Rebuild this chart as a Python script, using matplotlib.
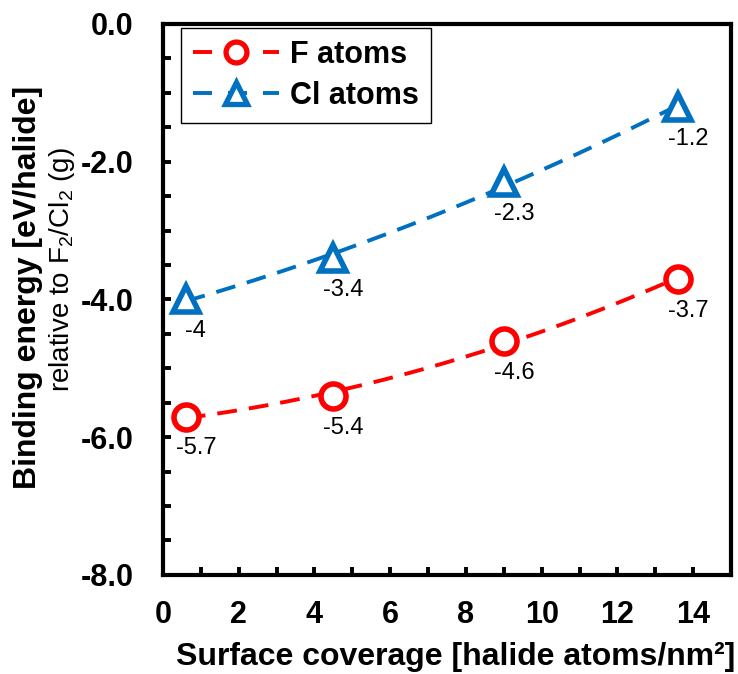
import numpy as np
import matplotlib
matplotlib.use("Agg")
import matplotlib.pyplot as plt
from matplotlib.lines import Line2D
from matplotlib.ticker import MultipleLocator, FormatStrFormatter

plt.rcParams['font.family'] = ['Liberation Sans', 'DejaVu Sans']
plt.rcParams['mathtext.fontset'] = 'custom'
plt.rcParams['mathtext.rm'] = 'Liberation Sans'

coverage = [0.6, 4.5, 9.0, 13.6]
f_energy = [-5.7, -5.4, -4.6, -3.7]
cl_energy = [-4.0, -3.4, -2.3, -1.2]
f_labels = ["-5.7", "-5.4", "-4.6", "-3.7"]
cl_labels = ["-4", "-3.4", "-2.3", "-1.2"]

RED = "#FF0000"
BLUE = "#0070C0"

fig = plt.figure(figsize=(7.38, 6.74), dpi=100)
ax = fig.add_axes([0.2209, 0.147, 0.7696, 0.8174])


def draw_series(y, labels, color, marker, ms):
    x = np.array(coverage)
    # excel style 2nd order trendline
    coef = np.polyfit(x, y, 2)
    xs = np.linspace(x[0], x[-1], 200)
    ax.plot(xs, np.polyval(coef, xs), color=color, lw=2.8, ls=(0, (5.1, 3.1)), zorder=2)
    ax.plot(x, y, ls="none", marker=marker, ms=ms, mfc="white", mec=color, mew=4, zorder=3)
    for xi, yi, lab in zip(x, y, labels):
        ax.annotate(lab, (xi, yi), xytext=(7.3, -23), textcoords="offset points",
                    ha="center", va="center", fontsize=17)


draw_series(f_energy, f_labels, RED, "o", 18)
draw_series(cl_energy, cl_labels, BLUE, "^", 19)

ax.set_xlim(0, 15)
ax.set_ylim(-8, 0)
ax.set_xticks([0, 2, 4, 6, 8, 10, 12, 14])
ax.xaxis.set_minor_locator(MultipleLocator(1))
ax.yaxis.set_major_locator(MultipleLocator(2))
ax.yaxis.set_minor_locator(MultipleLocator(0.5))
ax.yaxis.set_major_formatter(FormatStrFormatter("%.1f"))
ax.xaxis.set_major_formatter(FormatStrFormatter("%d"))

for s in ax.spines.values():
    s.set_linewidth(3)
ax.tick_params(which="both", direction="in", width=2.8, length=6)
ax.tick_params(axis="x", which="both", pad=18, labelsize=22)
ax.tick_params(axis="y", which="both", pad=21, labelsize=22)
for t in ax.get_xticklabels() + ax.get_yticklabels():
    t.set_fontweight("bold")

fig.text(0.617, 0.025, "Surface coverage [halide atoms/nm\u00b2]", ha="center", va="center",
         fontsize=23, fontweight="bold")
fig.text(0.038, 0.573, "Binding energy [eV/halide]", rotation=90, ha="center", va="center",
         fontsize=23, fontweight="bold")
fig.text(0.084, 0.6, "relative to F$_2$/Cl$_2$ (g)", rotation=90, ha="center", va="center",
         fontsize=20)

handles = [
    Line2D([], [], color=RED, lw=2.8, ls=(0, (4.9, 4.1)), marker="o", ms=15, mfc="white", mec=RED, mew=3.8),
    Line2D([], [], color=BLUE, lw=2.8, ls=(0, (4.9, 4.1)), marker="^", ms=16, mfc="white", mec=BLUE, mew=3.8),
]
leg = ax.legend(handles, ["F atoms", "Cl atoms"], loc="upper left", bbox_to_anchor=(0.032, 0.993),
                borderaxespad=0, fancybox=False, edgecolor="black", framealpha=1,
                handlelength=2.8, numpoints=1, prop={"size": 22, "weight": "bold"},
                borderpad=0.4, labelspacing=0.35, handletextpad=0.35)
leg.get_frame().set_linewidth(1.0)

fig.savefig("out.png", dpi=100)
